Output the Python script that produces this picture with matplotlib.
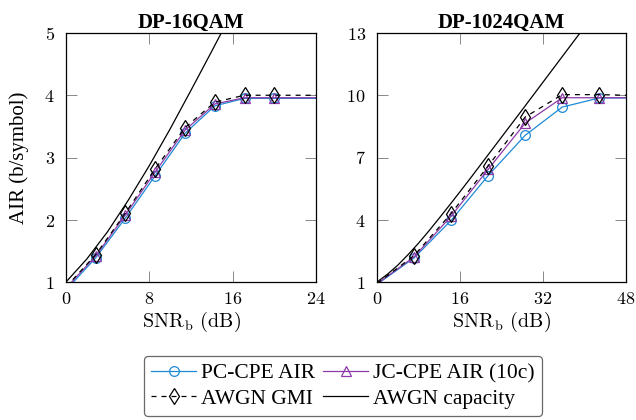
import matplotlib
matplotlib.use("Agg")
import matplotlib.pyplot as plt

# ---------------- data ----------------
# DP-16QAM
x16 = [0.0, 2.86, 5.71, 8.57, 11.43, 14.29, 17.14, 20.0, 24.0]
pc16 = [0.87, 1.39, 2.03, 2.71, 3.39, 3.83, 3.95, 3.95, 3.95]
jc16 = [0.90, 1.42, 2.08, 2.77, 3.44, 3.86, 3.96, 3.96, 3.96]
gmi16 = [0.92, 1.44, 2.11, 2.82, 3.48, 3.89, 4.00, 4.00, 4.00]

# DP-1024QAM
x1024 = [0.0, 7.14, 14.29, 21.43, 28.57, 35.71, 42.86, 48.0]
pc1024 = [0.89, 2.16, 3.97, 6.13, 8.07, 9.43, 9.87, 9.87]
jc1024 = [0.91, 2.21, 4.17, 6.43, 8.66, 9.88, 9.88, 9.88]
gmi1024 = [0.93, 2.27, 4.30, 6.59, 8.95, 10.03, 10.03, 10.0]

# AWGN capacity
xcap = [0, 2, 4, 6, 8, 10, 12, 14, 16, 18, 20, 24, 28, 32, 36, 40, 44, 48]
cap = [1.00, 1.37, 1.81, 2.32, 2.87, 3.46, 4.08, 4.71, 5.35, 6.00, 6.66,
       7.98, 9.30, 10.63, 11.96, 13.29, 14.62, 15.95]

titles = ["DP-16QAM", "DP-1024QAM"]
xticks = [[0, 8, 16, 24], [0, 16, 32, 48]]
yticks = [[1, 2, 3, 4, 5], [1, 4, 7, 10, 13]]
xlims = [(0, 24), (0, 48)]
ylims = [(1, 5), (1, 13)]

blue = "#1f8ad6"
purple = "#8e3aa8"

serif = ["Liberation Serif", "DejaVu Serif"]
plt.rcParams["mathtext.fontset"] = "cm"

fig = plt.figure(figsize=(6.36, 4.2), dpi=100)
axL = fig.add_axes([66 / 636, 1 - 282 / 420, 250 / 636, 249 / 420])
axR = fig.add_axes([377 / 636, 1 - 282 / 420, 249 / 636, 249 / 420])

datasets = [(x16, pc16, jc16, gmi16), (x1024, pc1024, jc1024, gmi1024)]

handles = None
for i, ax in enumerate([axL, axR]):
    x, pc, jc, gmi = datasets[i]
    n = len(x)
    mk = list(range(1, n - 1))
    h1, = ax.plot(x, pc, color=blue, lw=0.9, marker="o", ms=7,
                  mfc="none", mec=blue, mew=0.9, markevery=mk,
                  label="PC-CPE AIR")
    h2, = ax.plot(x, jc, color=purple, lw=0.9, marker="^", ms=7,
                  mfc="none", mec=purple, mew=0.9, markevery=mk,
                  label="JC-CPE AIR (10c)")
    h3, = ax.plot(x, gmi, color="black", lw=0.9, ls=(0, (4, 4)), marker="d",
                  ms=8.5, mfc="none", mec="black", mew=0.9, markevery=mk,
                  label="AWGN GMI")
    h4, = ax.plot(xcap, cap, color="black", lw=0.9, label="AWGN capacity")
    handles = [h1, h2, h3, h4]

    ax.set_xlim(*xlims[i])
    ax.set_ylim(*ylims[i])
    ax.set_xticks(xticks[i])
    ax.set_yticks(yticks[i])
    ax.set_xticklabels([f"${t}$" for t in xticks[i]], fontsize=13)
    ax.set_yticklabels([f"${t}$" for t in yticks[i]], fontsize=13)
    ax.tick_params(direction="in", length=8, width=0.7, color="#888888",
                   top=True, right=True)
    ax.tick_params(axis="x", pad=6)
    ax.tick_params(axis="y", pad=8)
    for s in ax.spines.values():
        s.set_linewidth(0.9)
    ax.set_title(titles[i], fontsize=15, fontweight="bold",
                 family=serif, pad=3.5)
    ax.set_xlabel(r"$\mathrm{SNR}_\mathrm{b}$ (dB)", fontsize=14.5,
                  family=["cmr10", "DejaVu Serif"], labelpad=1)

axL.set_ylabel("AIR (b/symbol)", fontsize=15, family=serif, labelpad=11)

order = [handles[0], handles[2], handles[1], handles[3]]
leg = fig.legend(handles=order, loc="center", ncol=2,
                 bbox_to_anchor=(343 / 636, 1 - 386 / 420),
                 prop={"family": serif, "size": 15.5},
                 frameon=True, fancybox=True, edgecolor="#444444",
                 handlelength=2.09, columnspacing=0.37, handletextpad=0.23,
                 labelspacing=0.25, borderpad=0.33, borderaxespad=0)
leg.get_frame().set_linewidth(0.9)

fig.savefig("out.png", dpi=100)
